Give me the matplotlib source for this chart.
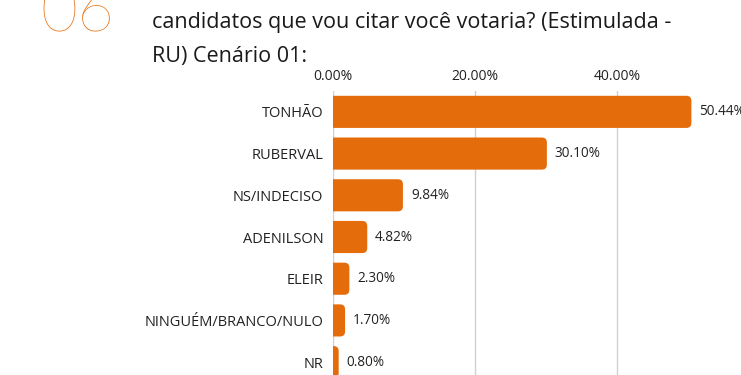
import matplotlib
matplotlib.use("Agg")
import matplotlib.pyplot as plt
from matplotlib.patches import FancyBboxPatch

plt.rcParams["font.family"] = ["Open Sans", "DejaVu Sans"]

# dados
categorias = ["TONHÃO", "RUBERVAL", "NS/INDECISO", "ADENILSON", "ELEIR",
              "NINGUÉM/BRANCO/NULO", "NR"]
valores = [50.44, 30.10, 9.84, 4.82, 2.30, 1.70, 0.80]
ticks = [0, 20, 40]
tick_labels = ["0.00%", "20.00%", "40.00%"]

LARANJA = "#E46C0A"
W, H = 741, 375

fig = plt.figure(figsize=(W / 100, H / 100), dpi=100)

# eixo posicionado em pixels
left, right = 333, 738
top, bottom = 91, 383
ax = fig.add_axes([left / W, 1 - bottom / H, (right - left) / W, (bottom - top) / H])
ax.set_xlim(0, 57)
ax.set_ylim(len(categorias) - 0.5, -0.5)

px_x = (right - left) / 57
px_y = (bottom - top) / len(categorias)
altura = 0.77
raio = 5 / px_x

for i, v in enumerate(valores):
    # começa antes do zero para a borda esquerda ficar reta (clip no eixo)
    box = FancyBboxPatch((-2, i - altura / 2), v + 2, altura,
                         boxstyle=f"round,pad=0,rounding_size={raio}",
                         mutation_aspect=px_x / px_y,
                         facecolor=LARANJA, edgecolor="none", zorder=3)
    ax.add_patch(box)
    ax.text(v + 8 / px_x, i, f"{v:.2f}%", va="center", ha="left",
            fontsize=9.8, color="#222222", zorder=4, clip_on=False)

ax.set_xticks(ticks)
ax.set_xticklabels(tick_labels)
ax.xaxis.tick_top()
ax.tick_params(axis="x", length=0, pad=5, labelsize=10, colors="#222222")
ax.set_yticks(range(len(categorias)))
ax.set_yticklabels(categorias)
ax.tick_params(axis="y", length=0, pad=7, labelsize=10.5, colors="#222222")
ax.grid(axis="x", color="#d0d0d0", linewidth=1, zorder=0)
for s in ax.spines.values():
    s.set_visible(False)

# cabeçalho
fig.text(40 / W, 1 - 32 / H, "06", fontsize=46, color=LARANJA,
         fontfamily=["Lato", "DejaVu Sans"], fontweight="light",
         ha="left", va="baseline")
fig.text(152 / W, 1 - 28 / H, "candidatos que vou citar você votaria? (Estimulada -",
         fontsize=15.5, color="#1a1a1a", ha="left", va="baseline")
fig.text(152 / W, 1 - 62 / H, "RU) Cenário 01:",
         fontsize=15.5, color="#1a1a1a", ha="left", va="baseline")

fig.savefig("out.png", dpi=100)
